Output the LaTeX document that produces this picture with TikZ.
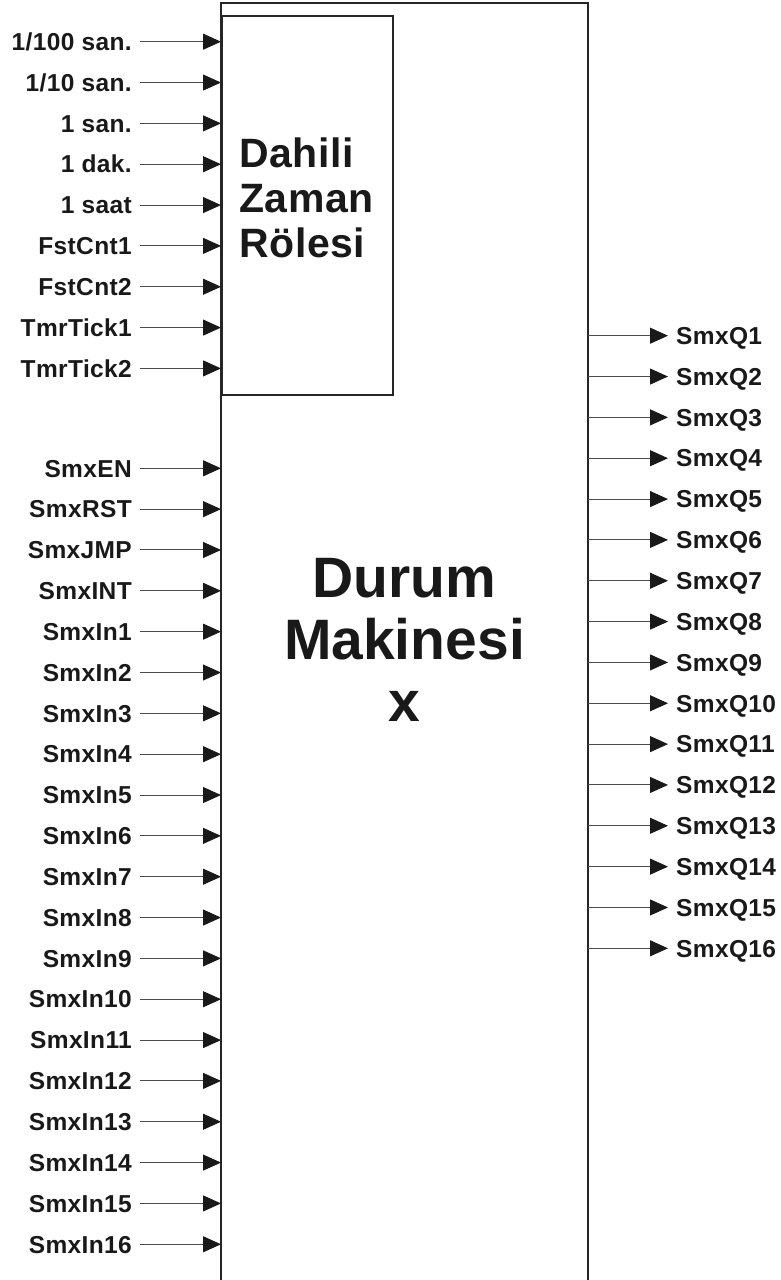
\documentclass[tikz,border=0pt]{standalone}
\usepackage{fontspec}
\setmainfont{Liberation Sans}
\newfontfamily\tmrfont[LetterSpace=1.5]{Liberation Sans}
\newfontfamily\pinfont[LetterSpace=1.5]{Liberation Sans}
\usetikzlibrary{arrows.meta,positioning}

\begin{document}
\begin{tikzpicture}[x=1pt,y=-1pt,
  lbl/.style={font=\pinfont\fontsize{24.5}{28}\selectfont\bfseries,text=black!90,
              inner sep=0pt,text height=17.5pt,text depth=0pt},
  inl/.style={lbl,anchor=east},
  outl/.style={lbl,anchor=west},
  arr/.style={-{Triangle[length=18pt,width=16pt,color=black!90]},line width=1pt,draw=black!70},
  frame/.style={line width=1.5pt,draw=black!85},
  title/.style={text=black!90,inner sep=0pt}
]
\useasboundingbox (0,0) rectangle (780,1280);
% outer block runs off the bottom of the page
\draw[frame] (221,1280) -- (221,3) -- (588,3) -- (588,1280);
\node[frame,draw,rectangle,anchor=north west,inner sep=0pt,
      minimum width=171pt,minimum height=379pt] (tmr) at (221,15) {};
\node[title,font=\tmrfont\fontsize{41}{45}\selectfont\bfseries,align=left,anchor=north west]
  (tmrtxt) at (239,138) {Dahili\\Zaman\\Rölesi};
\node[title,font=\fontsize{57}{62}\selectfont\bfseries,align=center,anchor=north]
  (smxtxt) at (404.5,558) {Durum\\Makinesi\\x};

% timer inputs
\foreach \t [count=\i from 0] in {1/100 san.,1/10 san.,1 san.,1 dak.,1 saat,
    FstCnt1,FstCnt2,TmrTick1,TmrTick2}{
  \coordinate (tin\i) at (221,{41.7+\i*40.84});
  \node[inl] (tl\i) at (132,{41.7+\i*40.84}) {\t};
  \draw[arr] ([xshift=8pt]tl\i.east) -- (tin\i);
}
% state machine inputs
\foreach \t [count=\i from 0] in {SmxEN,SmxRST,SmxJMP,SmxINT,SmxIn1,SmxIn2,SmxIn3,
    SmxIn4,SmxIn5,SmxIn6,SmxIn7,SmxIn8,SmxIn9,SmxIn10,SmxIn11,SmxIn12,SmxIn13,
    SmxIn14,SmxIn15,SmxIn16}{
  \coordinate (sin\i) at (221,{468.3+\i*40.84});
  \node[inl] (sl\i) at (132,{468.3+\i*40.84}) {\t};
  \draw[arr] ([xshift=8pt]sl\i.east) -- (sin\i);
}
% outputs
\foreach \i in {1,...,16}{
  \coordinate (qo\i) at (588,{335.7+(\i-1)*40.84});
  \node[outl] (ql\i) at (676,{335.7+(\i-1)*40.84}) {SmxQ\i};
  \draw[arr] (qo\i) -- ([xshift=-8pt]ql\i.west);
}
\end{tikzpicture}
\end{document}
